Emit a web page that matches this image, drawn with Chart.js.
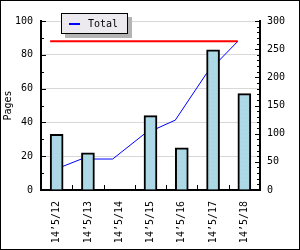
<!DOCTYPE html>
<html>
<head>
<meta charset="utf-8">
<script src="https://cdn.jsdelivr.net/npm/chart.js@4/dist/chart.umd.min.js"></script>
<style>
html,body{margin:0;padding:0;background:#fff;}
#wrap{width:300px;height:250px;position:relative;}
</style>
</head>
<body>
<div id="wrap"><canvas id="c" width="300" height="250"></canvas></div>
<script>
// ---- data ----
const categories = ["14\u20195/12","14\u20195/13","14\u20195/14","14\u20195/15","14\u20195/16","14\u20195/17","14\u20195/18"];
const pages = [33, 22, 0, 44, 25, 83, 57];
const total = [33, 55, 55, 99, 124, 207, 264];
const maxTotal = [264, 264, 264, 264, 264, 264, 264];
const leftTicks = [0, 20, 40, 60, 80, 100];
const rightTicks = [0, 50, 100, 150, 200, 250, 300];

const FONT = "'DejaVu Sans Mono', monospace";

// bar fill pattern: light blue with faint dots
const ctx0 = document.getElementById('c').getContext('2d');
const patCanvas = document.createElement('canvas');
patCanvas.width = 4; patCanvas.height = 4;
(function(){
  const g = patCanvas.getContext('2d');
  g.fillStyle = '#add8e6'; g.fillRect(0, 0, 4, 4);
  g.fillStyle = '#d2c0cc'; g.fillRect(1, 1, 1, 1);
})();
const barFill = ctx0.createPattern(patCanvas, 'repeat');

const decor = {
  id: 'decor',
  beforeDraw(chart){
    const c = chart.ctx;
    c.save();
    c.fillStyle = '#ffffff';
    c.fillRect(0, 0, chart.width, chart.height);
    c.restore();
  },
  afterDraw(chart){
    const c = chart.ctx;
    const a = chart.chartArea;
    const y = chart.scales.y, y2 = chart.scales.y2, x = chart.scales.x;
    c.save();
    c.strokeStyle = '#000';
    c.lineWidth = 1;
    c.beginPath();
    // left axis ticks (inward)
    for (let v = 0; v <= 100; v += 10) {
      const py = Math.round(y.getPixelForValue(v)) + 0.5;
      const len = (v % 20 === 0) ? 5 : 3;
      c.moveTo(a.left, py); c.lineTo(a.left + len, py);
    }
    // right axis ticks (inward)
    for (let v = 0; v <= 300; v += 10) {
      const py = Math.round(y2.getPixelForValue(v)) + 0.5;
      const len = (v % 50 === 0) ? 5 : 3;
      c.moveTo(a.right, py); c.lineTo(a.right - len, py);
    }
    // bottom ticks at category boundaries
    for (let i = 1; i < categories.length; i++) {
      const px = Math.round((x.getPixelForValue(i - 1) + x.getPixelForValue(i)) / 2) + 0.5;
      c.moveTo(px, a.bottom); c.lineTo(px, a.bottom - 5);
    }
    c.stroke();

    // legend box with shadow
    const ds = chart.data.datasets[1];
    const lx = 61, ly = 13, lw = 67, lh = 21;
    c.fillStyle = '#b4b4b4';
    c.fillRect(lx + 4, ly + 4, lw, lh);
    c.fillStyle = '#ece9ef';
    c.fillRect(lx, ly, lw, lh);
    c.strokeStyle = '#000';
    c.lineWidth = 1;
    c.strokeRect(lx + 0.5, ly + 0.5, lw - 1, lh - 1);
    c.strokeStyle = ds.borderColor;
    c.lineWidth = 2;
    c.beginPath();
    c.moveTo(lx + 8, ly + 11); c.lineTo(lx + 19, ly + 11);
    c.stroke();
    c.fillStyle = '#000';
    c.font = '10px ' + FONT;
    c.textBaseline = 'middle';
    c.fillText(ds.label, lx + 27, ly + 11);

    // outer frame
    c.strokeStyle = '#000';
    c.lineWidth = 1;
    c.strokeRect(0.5, 0.5, chart.width - 1, chart.height - 1);
    c.restore();
  }
};

new Chart(document.getElementById('c'), {
  data: {
    labels: categories,
    datasets: [
      {
        type: 'bar',
        label: 'Pages',
        data: pages,
        backgroundColor: barFill,
        borderColor: '#000',
        borderWidth: 2,
        barThickness: 13,
        grouped: false,
        xAxisID: 'x',
        yAxisID: 'y',
        order: 0
      },
      {
        type: 'line',
        label: 'Total',
        data: total.map((v, i) => ({x: i, y: v})),
        borderColor: '#0000ff',
        borderWidth: 1,
        pointRadius: 0,
        tension: 0,
        xAxisID: 'x2',
        yAxisID: 'y2',
        order: 2
      },
      {
        type: 'line',
        label: 'Max',
        data: maxTotal.map((v, i) => ({x: i, y: v})),
        borderColor: '#ff0000',
        borderWidth: 2,
        pointRadius: 0,
        tension: 0,
        xAxisID: 'x2',
        yAxisID: 'y2',
        order: 1
      }
    ]
  },
  options: {
    responsive: false,
    animation: false,
    layout: { padding: { top: 21, left: 0, right: 0, bottom: 0 } },
    plugins: { legend: { display: false }, tooltip: { enabled: false } },
    scales: {
      x: {
        type: 'category',
        offset: true,
        grid: { display: false, drawTicks: false },
        border: { color: '#000', width: 2 },
        ticks: { color: '#000', font: { family: FONT, size: 10 }, minRotation: 90, maxRotation: 90, padding: 11, autoSkip: false },
        afterFit(s){ s.height = 60; }
      },
      x2: {
        type: 'linear',
        display: false,
        min: -0.292,
        max: 6.708
      },
      y: {
        position: 'left',
        min: 0, max: 100,
        afterBuildTicks(s){ s.ticks = leftTicks.map(v => ({value: v})); },
        grid: { color: '#d8d8d8', lineWidth: 1, drawTicks: false },
        border: { color: '#000', width: 2 },
        ticks: { color: '#000', font: { family: FONT, size: 10 }, padding: 8 },
        title: { display: true, text: 'Pages', color: '#000', font: { family: FONT, size: 10 }, padding: { top: 2, bottom: 0 } },
        afterFit(s){ s.width = 41; }
      },
      y2: {
        position: 'right',
        min: 0, max: 300,
        afterBuildTicks(s){ s.ticks = rightTicks.map(v => ({value: v})); },
        grid: { display: false, drawTicks: false },
        border: { color: '#000', width: 2 },
        ticks: { color: '#000', font: { family: FONT, size: 10 }, padding: 7 },
        afterFit(s){ s.width = 40; }
      }
    }
  },
  plugins: [decor]
});
</script>
</body>
</html>
